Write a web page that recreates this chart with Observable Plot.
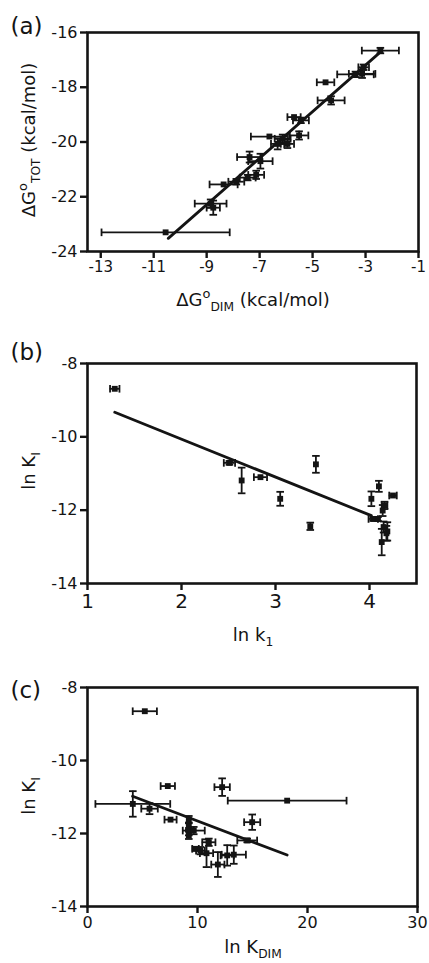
<!DOCTYPE html>
<html><head><meta charset="utf-8">
<script src="https://cdn.jsdelivr.net/npm/d3@7"></script>
<script src="https://cdn.jsdelivr.net/npm/@observablehq/plot@0.6"></script>
<style>
body{margin:0;background:#fff;}
#chart{width:429px;}
#chart svg{display:block;}
</style></head><body><div id="chart"></div>
<script>
// ---------- Panel (a) ----------
const aX    = [-10.55,-8.85,-8.75,-8.36,-7.88,-7.45,-7.13,-7.38,-6.97,-6.63,-6.32,-6.13,-5.95,-5.51,-5.70,-5.44,-4.51,-4.30,-3.38,-3.13,-3.07,-2.44];
const aY    = [-23.30,-22.25,-22.40,-21.55,-21.45,-21.30,-21.20,-20.55,-20.70,-19.80,-20.07,-19.88,-20.07,-19.76,-19.09,-19.21,-17.82,-18.48,-17.53,-17.51,-17.27,-16.66];
const aXerr = [2.42,0.60,0.25,0.53,0.30,0.30,0.30,0.47,0.46,0.70,0.25,0.30,0.25,0.35,0.25,0.30,0.33,0.51,0.69,0.50,0.20,0.70];
const aYerr = [0,0.15,0.26,0,0.10,0.10,0.15,0.20,0.27,0,0.20,0.15,0.15,0.15,0,0.10,0,0.15,0.10,0.15,0.10,0.10];
const aFitX = [-10.45,-2.40];
const aFitY = [-23.52,-16.68];
const aXTicks = [-13,-11,-9,-7,-5,-3,-1];
const aYTicks = [-24,-22,-20,-18,-16];

// ---------- Panel (b) ----------
const bX    = [1.29,2.51,2.64,2.84,3.05,3.43,3.37,4.02,4.10,4.25,4.16,4.14,4.04,4.09,4.15,4.18,4.13,4.19];
const bY    = [-8.69,-10.71,-11.19,-11.10,-11.69,-10.75,-12.44,-11.69,-11.35,-11.60,-11.87,-12.01,-12.24,-12.24,-12.46,-12.63,-12.87,-12.58];
const bXerr = [0.05,0.06,0,0.07,0,0,0,0,0,0.04,0.03,0,0.05,0,0,0,0,0];
const bYerr = [0,0.05,0.35,0,0.19,0.23,0.10,0.20,0.15,0,0.10,0.15,0.05,0.05,0.15,0.20,0.36,0.25];
const bFitX = [1.29,4.02];
const bFitY = [-9.33,-12.15];
const bXTicks = [1,2,3,4];
const bYTicks = [-14,-12,-10,-8];

// ---------- Panel (c) ----------
const cX    = [5.21,7.30,12.24,18.15,4.12,5.64,7.55,9.21,9.21,9.21,9.21,9.66,14.97,14.52,11.03,9.82,10.27,10.82,11.85,12.70,13.30];
const cY    = [-8.65,-10.70,-10.73,-11.10,-11.19,-11.32,-11.62,-11.62,-11.80,-11.95,-12.05,-11.92,-11.69,-12.19,-12.24,-12.42,-12.47,-12.54,-12.85,-12.60,-12.58];
const cXerr = [1.10,0.65,0.70,5.40,3.40,0.75,0.55,0,0,0,0,1.00,0.73,0.90,0.60,0.30,0.40,0.60,0.60,0.60,1.10];
const cYerr = [0,0,0.24,0,0.35,0.15,0,0.10,0.10,0.10,0.10,0.10,0.21,0.05,0.10,0.05,0.10,0.38,0.34,0.28,0.25];
const cFitX = [4.10,18.15];
const cFitY = [-10.98,-12.59];
const cXTicks = [0,10,20,30];
const cYTicks = [-14,-12,-10,-8];

const INK = "#141414";
const FONT = "DejaVu Sans";

const vCap = {draw(ctx, size){const r=Math.sqrt(size/Math.PI); ctx.moveTo(0,-r); ctx.lineTo(0,r);}};
const hCap = {draw(ctx, size){const r=Math.sqrt(size/Math.PI); ctx.moveTo(-r,0); ctx.lineTo(r,0);}};

function panel(p){
  const pts = p.xs.map((x,i)=>({x, y:p.ys[i], xe:p.xe[i], ye:p.ye[i]}));
  const xb = pts.filter(d=>d.xe>0), yb = pts.filter(d=>d.ye>0);
  const xcaps = xb.flatMap(d=>[{x:d.x-d.xe,y:d.y},{x:d.x+d.xe,y:d.y}]);
  const ycaps = yb.flatMap(d=>[{x:d.x,y:d.y-d.ye},{x:d.x,y:d.y+d.ye}]);
  const fit = p.fitX.map((x,i)=>({x, y:p.fitY[i]}));
  const svg = Plot.plot({
    width: 429, height: p.height,
    marginTop: p.mt, marginBottom: p.mb, marginLeft: 87, marginRight: p.mr,
    style: {fontFamily: FONT, color: INK, background: "#fff", overflow: "visible"},
    x: {domain: p.xDomain, label: null},
    y: {domain: p.yDomain, label: null},
    marks: [
      Plot.ruleY(xb, {y:"y", x1:d=>d.x-d.xe, x2:d=>d.x+d.xe, stroke: INK, strokeWidth: 1.8}),
      Plot.ruleX(yb, {x:"x", y1:d=>d.y-d.ye, y2:d=>d.y+d.ye, stroke: INK, strokeWidth: 1.8}),
      Plot.dot(xcaps, {x:"x", y:"y", symbol: vCap, r: 3.8, fill: "none", stroke: INK, strokeWidth: 1.8}),
      Plot.dot(ycaps, {x:"x", y:"y", symbol: hCap, r: 3.8, fill: "none", stroke: INK, strokeWidth: 1.8}),
      Plot.line(fit, {x:"x", y:"y", stroke: INK, strokeWidth: 2.8}),
      Plot.dot(pts, {x:"x", y:"y", symbol: "square", r: 3.3, fill: INK, stroke: "none"}),
      Plot.frame({stroke: INK, strokeWidth: 2.6}),
      Plot.axisX({ticks: p.xTicks, tickFormat: d=>String(d), tickSize: 7, tickPadding: 3, fontSize: p.xFont, stroke: INK, strokeWidth: 2.4, label: null}),
      Plot.axisY({ticks: p.yTicks, tickFormat: d=>String(d), tickSize: 7, tickPadding: 3, fontSize: p.yFont, stroke: INK, strokeWidth: 2.4, label: null}),
      Plot.text([p.letter], {frameAnchor: "top-left", dx: 10-87, dy: p.letterDy, text: d=>d, textAnchor: "start", lineAnchor: "bottom", fontSize: 23, fill: INK})
    ]
  });
  const s = d3.select(svg);
  addLabel(s, 253, p.xLabelY, 0, p.xLabel, 18);
  addLabel(s, p.yLabelX, p.yLabelY, -90, p.yLabel, 18);
  return svg;
}

function addLabel(s, x, y, rot, parts, size){
  const t = s.append("text")
    .attr("transform", `translate(${x},${y}) rotate(${rot})`)
    .attr("text-anchor", "middle")
    .attr("font-family", FONT)
    .attr("font-size", size)
    .attr("fill", INK);
  for (const [txt, kind] of parts){
    const ts = t.append("tspan").text(txt);
    if (kind === "sup") ts.attr("font-size", size*0.72).attr("baseline-shift", size*0.42);
    if (kind === "sub") ts.attr("font-size", size*0.68).attr("baseline-shift", -size*0.3);
  }
}

const root = document.getElementById("chart");
root.append(panel({
  xs:aX, ys:aY, xe:aXerr, ye:aYerr, fitX:aFitX, fitY:aFitY,
  xDomain:[-13.5,-1], yDomain:[-24,-16], xTicks:aXTicks, yTicks:aYTicks,
  height:320, mt:32, mb:69, mr:11, xFont:15, yFont:16,
  letter:"(a)", letterDy:1,
  xLabel:[["ΔG",""],["o","sup"],["DIM","sub"],[" (kcal/mol)",""]], xLabelY:306,
  yLabel:[["ΔG",""],["o","sup"],["TOT","sub"],[" (kcal/mol)",""]], yLabelX:35, yLabelY:140
}));
root.append(panel({
  xs:bX, ys:bY, xe:bXerr, ye:bYerr, fitX:bFitX, fitY:bFitY,
  xDomain:[1,4.5], yDomain:[-14,-8], xTicks:bXTicks, yTicks:bYTicks,
  height:330, mt:43, mb:67, mr:13, xFont:20, yFont:16,
  letter:"(b)", letterDy:-4,
  xLabel:[["ln k",""],["1","sub"]], xLabelY:321,
  yLabel:[["ln K",""],["I","sub"]], yLabelX:35, yLabelY:151
}));
root.append(panel({
  xs:cX, ys:cY, xe:cXerr, ye:cYerr, fitX:cFitX, fitY:cFitY,
  xDomain:[0,30], yDomain:[-14,-8], xTicks:cXTicks, yTicks:cYTicks,
  height:313, mt:37, mb:57, mr:12, xFont:16, yFont:16,
  letter:"(c)", letterDy:10,
  xLabel:[["ln K",""],["DIM","sub"]], xLabelY:303,
  yLabel:[["ln K",""],["I","sub"]], yLabelX:35, yLabelY:146
}));
</script></body></html>
